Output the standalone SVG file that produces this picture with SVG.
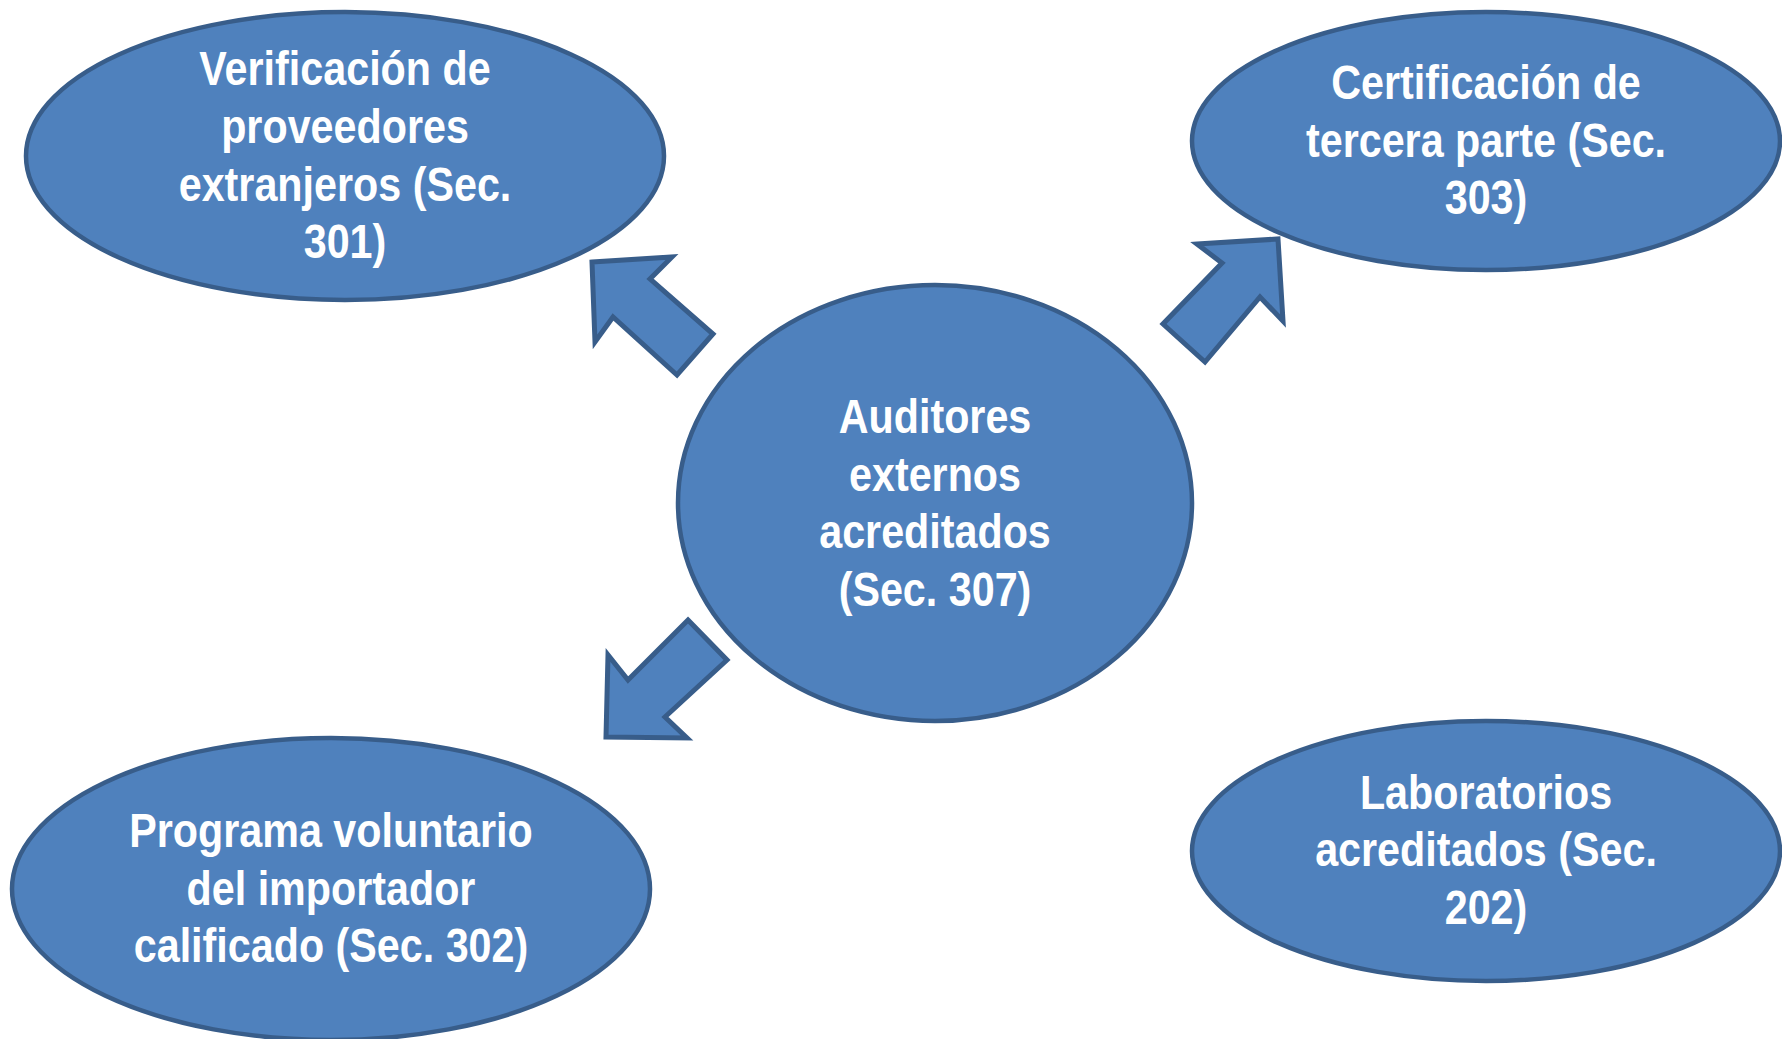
<svg xmlns="http://www.w3.org/2000/svg" width="1782" height="1039" viewBox="0 0 1782 1039">
<style>
.n{fill:#4F81BD;stroke:#385D8A;stroke-width:4.5}
.a{fill:#4F81BD;stroke:#385D8A;stroke-width:5;stroke-linejoin:miter}
text{font-family:"Liberation Sans","Arial",sans-serif;font-weight:bold;font-size:48px;fill:#FFFFFF;text-anchor:middle}
</style>
<rect width="1782" height="1039" fill="#FFFFFF"/>
<g id="connectors">
<polygon class="a" points="592,262 672,257 650,279 713,334 677,375 613,317 595,342"/>
<polygon class="a" points="1197,244 1278,239 1283,321 1260,297 1205,362 1163,324 1222,263"/>
<polygon class="a" points="688,620 727,660 665,717 687,738 606,737 608,655 628,680"/>
</g>
<g id="node-301">
<ellipse class="n" cx="345" cy="156" rx="319" ry="144"/>
<text transform="matrix(0.86 0 0 1 345 85)">Verificación de</text>
<text transform="matrix(0.86 0 0 1 345 143)">proveedores</text>
<text transform="matrix(0.86 0 0 1 345 201)">extranjeros (Sec.</text>
<text transform="matrix(0.86 0 0 1 345 258)">301)</text>
</g>
<g id="node-303">
<ellipse class="n" cx="1486" cy="141" rx="294" ry="129"/>
<text transform="matrix(0.86 0 0 1 1486 99)">Certificación de</text>
<text transform="matrix(0.86 0 0 1 1486 157)">tercera parte (Sec.</text>
<text transform="matrix(0.86 0 0 1 1486 214)">303)</text>
</g>
<g id="node-307">
<ellipse class="n" cx="935" cy="503" rx="257" ry="218"/>
<text transform="matrix(0.86 0 0 1 935 433)">Auditores</text>
<text transform="matrix(0.86 0 0 1 935 491)">externos</text>
<text transform="matrix(0.86 0 0 1 935 548)">acreditados</text>
<text transform="matrix(0.86 0 0 1 935 606)">(Sec. 307)</text>
</g>
<g id="node-302">
<ellipse class="n" cx="331" cy="889" rx="319" ry="151"/>
<text transform="matrix(0.86 0 0 1 331 847)">Programa voluntario</text>
<text transform="matrix(0.86 0 0 1 331 905)">del importador</text>
<text transform="matrix(0.86 0 0 1 331 962)">calificado (Sec. 302)</text>
</g>
<g id="node-202">
<ellipse class="n" cx="1486" cy="851" rx="294" ry="130"/>
<text transform="matrix(0.86 0 0 1 1486 809)">Laboratorios</text>
<text transform="matrix(0.86 0 0 1 1486 866)">acreditados (Sec.</text>
<text transform="matrix(0.86 0 0 1 1486 924)">202)</text>
</g>
</svg>
